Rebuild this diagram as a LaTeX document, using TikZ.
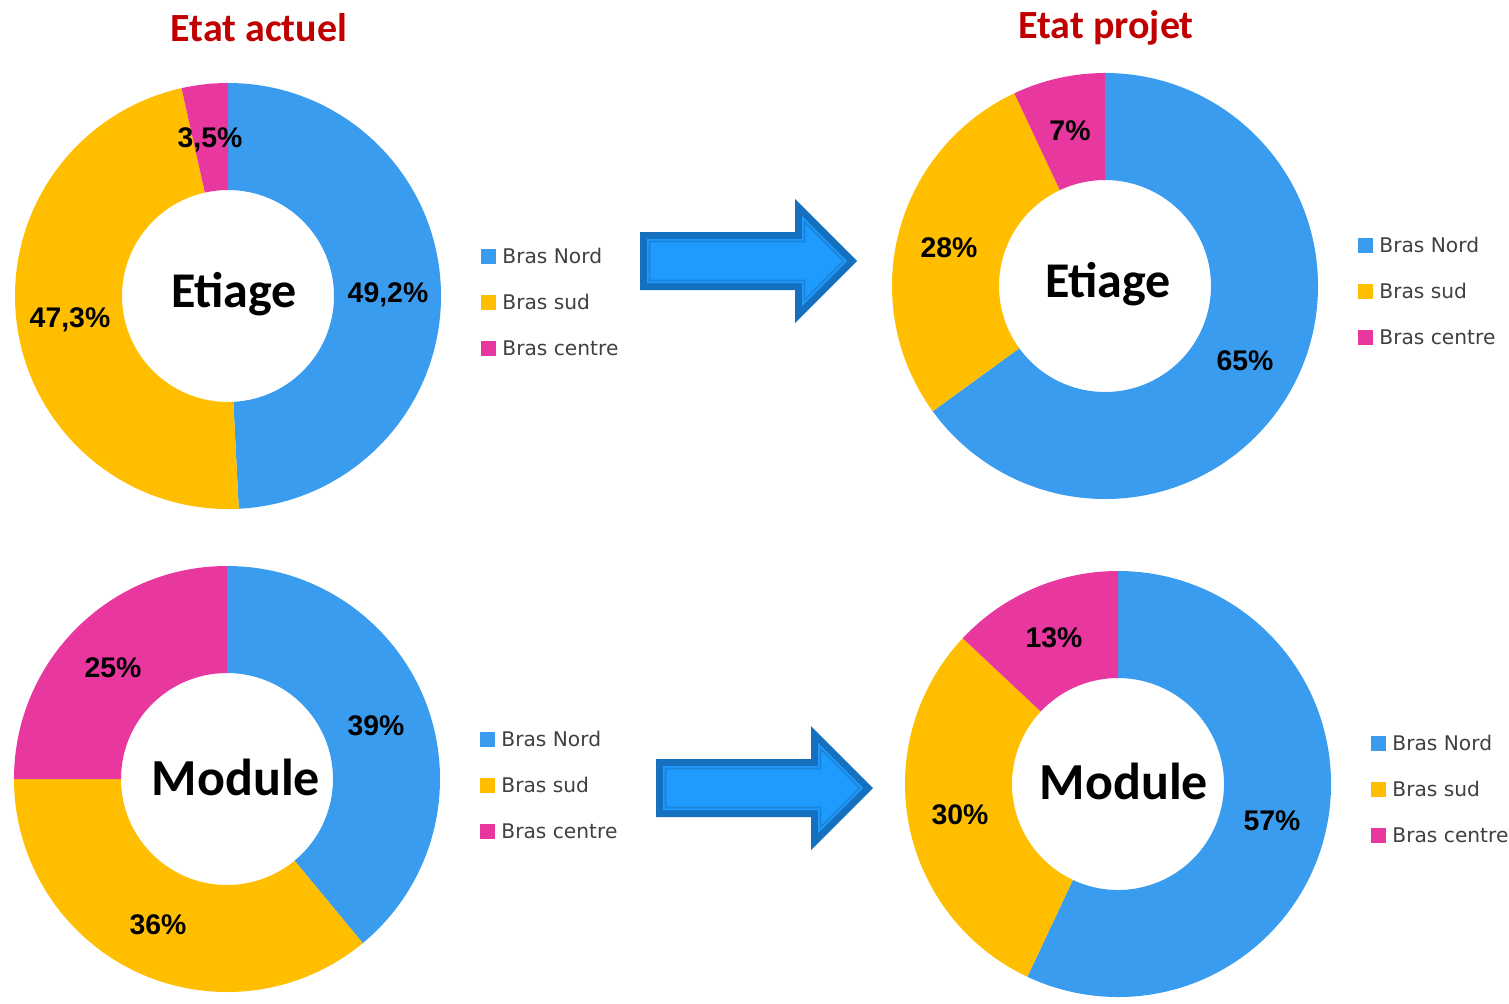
\documentclass[tikz,border=0pt]{standalone}
\usepackage{fontspec}
\setmainfont{Carlito}
\newfontfamily\pctfont{Liberation Sans}
\newfontfamily\legfont{DejaVu Sans}
\definecolor{cblue}{HTML}{3A9CEE}
\definecolor{cyellow}{HTML}{FFBF00}
\definecolor{cpink}{HTML}{E8379E}
\definecolor{ctitle}{HTML}{C00000}
\definecolor{arrdark}{HTML}{1570C0}
\definecolor{arrfill}{HTML}{1E9BFD}
\definecolor{arrline}{HTML}{1A84DA}
\definecolor{leggray}{HTML}{404040}
\newcommand\donutseg[5]{%
  \fill[#5] ([shift={(#3:213)}]#1,#2) arc[start angle=#3,end angle=#4,radius=213]
    -- ([shift={(#4:106)}]#1,#2) arc[start angle=#4,end angle=#3,radius=106] -- cycle;}
\newcommand\blockarrow[2]{%
  \begin{scope}[shift={(#1,#2)}]
    \fill[arrdark] (0,29) -- (155,29) -- (155,62) -- (217,0) -- (155,-62) -- (155,-29) -- (0,-29) -- cycle;
    \fill[arrfill] (7,22) -- (162,22) -- (162,45.1) -- (207.1,0) -- (162,-45.1) -- (162,-22) -- (7,-22) -- cycle;
    \draw[arrline,line width=0.8pt,line join=miter] (9.5,19.5) -- (164.5,19.5) -- (164.5,39) -- (203.5,0) -- (164.5,-39) -- (164.5,-19.5) -- (9.5,-19.5) -- cycle;
  \end{scope}}
\tikzset{
  title/.style={font=\bfseries\fontsize{20}{23}\selectfont, text=ctitle},
  center/.style={font=\bfseries\fontsize{25}{28}\selectfont, text=black},
  pct/.style={font=\pctfont\bfseries\fontsize{14.2}{16}\selectfont, text=black},
  legtext/.style={font=\legfont\fontsize{10.1}{12}\selectfont, text=leggray, anchor=west, inner sep=0pt},
  legsq/.style={minimum size=7.5pt, inner sep=0pt, anchor=west}
}
\newcommand\legendblock[3]{%
  \node[legsq, fill=cblue] (#3n) at (#1,-#2) {};
  \node[legtext] (#3nt) at (#1+21,-#2) {Bras Nord};
  \node[legsq, fill=cyellow] (#3s) at (#1,-#2-46) {};
  \node[legtext] (#3st) at (#1+21,-#2-46) {Bras sud};
  \node[legsq, fill=cpink] (#3c) at (#1,-#2-92) {};
  \node[legtext] (#3ct) at (#1+21,-#2-92) {Bras centre};}
\begin{document}
\begin{tikzpicture}[x=0.5pt,y=0.5pt]
\useasboundingbox (0,0) rectangle (1509,-1003);
\fill[white] (0,0) rectangle (1509,-1003);

% titles
\node[title] (t1) at (259,-28) {Etat actuel};
\node[title] (t2) at (1106,-28) {Etat projet};

% donut top-left
\donutseg{228}{-296}{90}{-87.1}{cblue}
\donutseg{228}{-296}{-87.1}{-257.4}{cyellow}
\donutseg{228}{-296}{-257.4}{-270}{cpink}
\node[center] (c1) at (234,-294) {Etiage};
\node[pct] (p1a) at (210,-140) {3,5\%};
\node[pct] (p1b) at (388,-295) {49,2\%};
\node[pct] (p1c) at (70,-320) {47,3\%};

% donut top-right
\donutseg{1105}{-286}{90}{-144}{cblue}
\donutseg{1105}{-286}{-144}{-244.8}{cyellow}
\donutseg{1105}{-286}{-244.8}{-270}{cpink}
\node[center] (c2) at (1108,-284) {Etiage};
\node[pct] (p2a) at (1070,-131) {7\%};
\node[pct] (p2b) at (949,-248) {28\%};
\node[pct] (p2c) at (1245,-361) {65\%};

% donut bottom-left
\donutseg{227}{-779}{90}{-50.4}{cblue}
\donutseg{227}{-779}{-50.4}{-180}{cyellow}
\donutseg{227}{-779}{-180}{-270}{cpink}
\node[center,font=\bfseries\fontsize{26}{29}\selectfont] (c3) at (236,-777) {Module};
\node[pct] (p3a) at (113,-668) {25\%};
\node[pct] (p3b) at (376,-726) {39\%};
\node[pct] (p3c) at (158,-925) {36\%};

% donut bottom-right
\donutseg{1118}{-784}{90}{-115.2}{cblue}
\donutseg{1118}{-784}{-115.2}{-223.2}{cyellow}
\donutseg{1118}{-784}{-223.2}{-270}{cpink}
\node[center,font=\bfseries\fontsize{26}{29}\selectfont] (c4) at (1124,-781) {Module};
\node[pct] (p4a) at (1054,-638) {13\%};
\node[pct] (p4b) at (960,-815) {30\%};
\node[pct] (p4c) at (1272,-821) {57\%};

% legends
\legendblock{481}{256}{la}
\legendblock{1358}{245}{lb}
\legendblock{480}{739}{lc}
\legendblock{1371}{743}{ld}

% arrows
\blockarrow{640}{-261}
\blockarrow{656}{-788}
\end{tikzpicture}
\end{document}
